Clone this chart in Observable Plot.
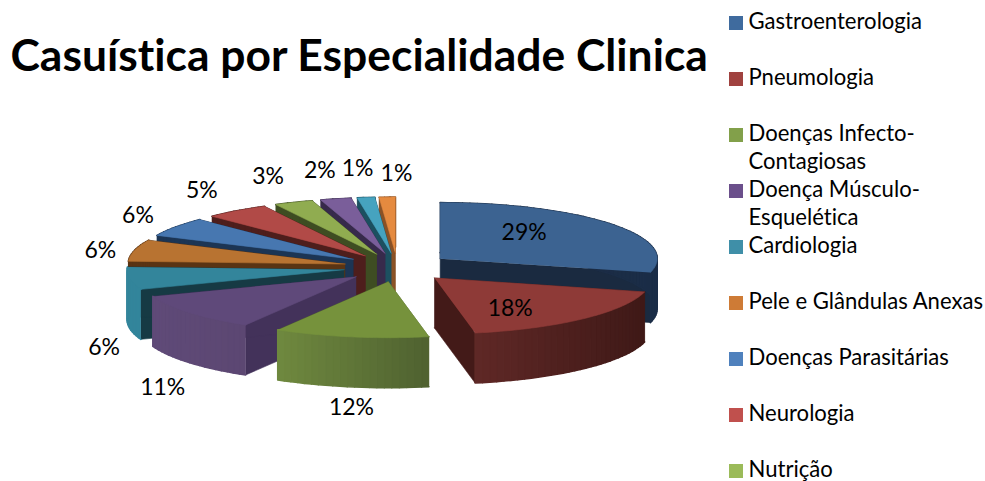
<!DOCTYPE html>
<html lang="pt">
<head>
<meta charset="utf-8">
<title>Casuística por Especialidade Clinica</title>
<style>html,body{margin:0;padding:0;background:#fff;overflow:hidden}svg{display:block}svg text{font-variant-ligatures:none}</style>
<script src="https://cdn.jsdelivr.net/npm/d3@7"></script>
<script src="https://cdn.jsdelivr.net/npm/@observablehq/plot@0.6"></script>
</head>
<body>
<script>
// Data (only nine categories are visible in the cut-off legend)
const titleText = "Casuística por Especialidade Clinica";
const legendRows = [
  ["Gastroenterologia"],
  ["Pneumologia"],
  ["Doenças Infecto-", "Contagiosas"],
  ["Doença Músculo-", "Esquelética"],
  ["Cardiologia"],
  ["Pele e Glândulas Anexas"],
  ["Doenças Parasitárias"],
  ["Neurologia"],
  ["Nutrição"]
];
const shares = [29, 18, 11.5, 10.8, 6.49, 6.21, 5.5, 4.8, 2.9, 2.3, 1.3, 1.2];

// Styles
const legendColors = ["#3f6b9e","#a0423f","#82a04a","#6b4f8b","#3f8fa8","#ce7b36","#4f81bd","#c0504d","#9bbb59"];
const topColors    = ["#3c6391","#8e3a37","#76923c","#5f497a","#33859b","#b87331","#4777b0","#b14a47","#90ac50","#7a5e9a","#46a3bf","#e58a3f"];
const radialColors = ["#1a2a40","#431a18","#53652f","#43325a","#163a44","#5a3413","#1c3554","#4e1e1c","#3e4d22","#372a4b","#1c5060","#8a5226"];
const wallStart    = ["#1a2a40","#5f2826","#6f893f","#5f4a78","#33859b","#5a3413","#1c3554","#4e1e1c","#3e4d22","#372a4b","#1c5060","#8a5226"];
const wallEnd      = ["#1b2d47","#3f1917","#4f6130","#5c4772","#33859b","#5a3413","#1c3554","#4e1e1c","#3e4d22","#372a4b","#1c5060","#8a5226"];

// Pie geometry (oblique projection of an exploded pie)
const W = 985, H = 481;
const cx = 397, cy = 267, rx = 217, ry = 56, depth = 50, popX = 54, popY = 14.4;
const rad = d => d * Math.PI / 180;
const total = d3.sum(shares);
let acc = 0;
const slices = shares.map((v, i) => {
  const a0 = acc / total * 360; acc += v;
  const a1 = acc / total * 360, mid = (a0 + a1) / 2;
  return {i, v, a0, a1, mid,
    ax: cx + popX * Math.sin(rad(mid)),
    ay: cy - popY * Math.cos(rad(mid))};
});
const rimX = (s, a) => s.ax + rx * Math.sin(rad(a));
const rimY = (s, a) => s.ay - ry * Math.cos(rad(a));
const drawOrder = [11, 10, 9, 8, 7, 6, 5, 0, 4, 3, 1, 2];

const polys = [];
let pid = 0;
function addPoly(points, color, sw) {
  const id = pid++;
  for (const [x, y] of points) polys.push({id, color, sw, x, y});
}
for (const k of drawOrder) {
  const s = slices[k];
  for (const a of [s.a0, s.a1]) {
    addPoly([[s.ax, s.ay], [rimX(s, a), rimY(s, a)], [rimX(s, a), rimY(s, a) + depth], [s.ax, s.ay + depth]], radialColors[k], 0.6);
  }
  const n = Math.max(2, Math.ceil((s.a1 - s.a0) / 2));
  const mix = d3.interpolateRgb(wallStart[k], wallEnd[k]);
  const xs = [rimX(s, s.a0), rimX(s, s.a1)];
  for (let j = 0; j < n; j++) {
    const p = s.a0 + (s.a1 - s.a0) * j / n, q = s.a0 + (s.a1 - s.a0) * (j + 1) / n;
    // the shade runs from the left end of the wall to its right end
    const t = (rimX(s, (p + q) / 2) - d3.min(xs)) / Math.max(1, d3.max(xs) - d3.min(xs));
    addPoly([[rimX(s, p), rimY(s, p)], [rimX(s, q), rimY(s, q)], [rimX(s, q), rimY(s, q) + depth], [rimX(s, p), rimY(s, p) + depth]], mix(Math.min(1, t)), 1.6);
  }
  const top = [[s.ax, s.ay]];
  for (let j = 0; j <= n * 2; j++) {
    const a = s.a0 + (s.a1 - s.a0) * j / (n * 2);
    top.push([rimX(s, a), rimY(s, a)]);
  }
  addPoly(top, topColors[k], 0.6);
}

// Percent labels: inside for the two big slices, outside for the rest
const pctLabels = slices.map((s, i) => {
  const sin = Math.sin(rad(s.mid)), cos = Math.cos(rad(s.mid));
  const text = Math.round(s.v) + "%";
  if (s.v >= 15) return {text, x: s.ax + 0.49 * rx * sin + (i === 1 ? 3 : 0), y: s.ay - 0.76 * ry * cos};
  const front = cos < 0;
  const last = i === slices.length - 1;
  return {text,
    x: last ? s.ax + 1 : s.ax + 290 * sin - 40 * sin ** 3 + (front ? 7 - 6 * cos : 0),
    y: front ? s.ay + 47 + 80 * Math.sqrt(-cos) : s.ay - 85 * cos + 8 * sin * sin + (last ? 5 : 0)};
});

// Legend layout from row index
const rowY = i => 23 + 56 * i;
const legendText = legendRows.flatMap((lines, i) => lines.map((text, j) => ({text, x: 748, y: rowY(i) + 28 * j - 1.5})));
const legendBoxes = legendRows.map((_, i) => ({x1: 729, x2: 743, y1: rowY(i) - 7, y2: rowY(i) + 7, fill: legendColors[i]}));

const chart = Plot.plot({
  width: W, height: H,
  margin: 0,
  style: {background: "#fff", fontFamily: "Lato, sans-serif"},
  x: {domain: [0, W], range: [0, W], axis: null},
  y: {domain: [0, H], range: [0, H], axis: null},
  color: {type: "identity"},
  marks: [
    Plot.line(polys, {x: "x", y: "y", z: "id", fill: "color", stroke: "color", strokeWidth: "sw", curve: "linear"}),
    Plot.text(pctLabels, {x: "x", y: "y", text: "text", fontSize: 23, fill: "#000", textAnchor: "middle", lineAnchor: "middle"}),
    Plot.rect(legendBoxes, {x1: "x1", x2: "x2", y1: "y1", y2: "y2", fill: "fill"}),
    Plot.text(legendText, {x: "x", y: "y", text: "text", fontSize: 22.1, fill: "#000", textAnchor: "start", lineAnchor: "middle"}),
    Plot.text([titleText], {x: [10], y: [56], text: d => d, fontSize: 44.4, fontWeight: 700, fill: "#000", textAnchor: "start", lineAnchor: "middle"})
  ]
});
document.body.appendChild(chart);
</script>
</body>
</html>
